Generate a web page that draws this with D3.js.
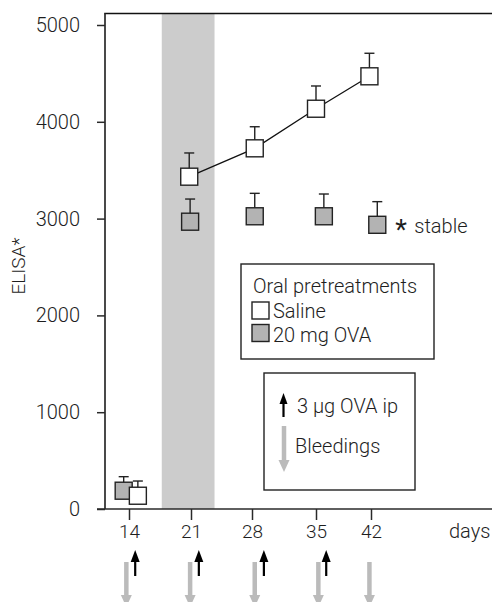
<!DOCTYPE html>
<html>
<head>
<meta charset="utf-8">
<script src="https://cdn.jsdelivr.net/npm/d3@7"></script>
<style>
  body { margin: 0; background: #fff; }
  svg text { font-family: Roboto, "Liberation Sans", sans-serif; font-weight: 300; fill: #1e1e1e; }
</style>
</head>
<body>
<svg id="chart" width="492" height="602"></svg>
<script>
// tick labels
const dayTicks = [14, 21, 28, 35, 42]
const elisaTicks = [0, 1000, 2000, 3000, 4000, 5000]

// series (days slightly dodged as drawn)
const salineDays = [15, 20.8, 28.3, 35, 41.8]
const salineMean = [137, 3433, 3726, 4135, 4470]
const salineSem = [152, 245, 223, 235, 238]

const ovaDays = [13.4, 20.9, 28.3, 36, 42.8]
const ovaMean = [189, 2968, 3024, 3024, 2936]
const ovaSem = [145, 234, 237, 230, 239]

// oral pretreatment window, immunizations and bleedings
const pretreatWindow = [17.7, 23.7]
const immunizationDays = [14.7, 21.9, 29.3, 36.3]
const bleedingDays = [13.7, 20.9, 28.3, 35.3, 41.8]

const fontSize = 20

const svg = d3.select('#chart')

// x scale follows the hand-drawn tick spacing
const x = d3.scaleLinear()
  .domain(dayTicks)
  .range([129, 191, 252, 316, 371])

const y = d3.scaleLinear()
  .domain([0, 5000])
  .range([509, 25])

const axisColor = '#2a2a2a'
const frameTop = 13.5

// shaded pretreatment band
svg.append('rect')
  .attr('x', x(pretreatWindow[0]))
  .attr('y', frameTop)
  .attr('width', x(pretreatWindow[1]) - x(pretreatWindow[0]))
  .attr('height', y(0) - frameTop)
  .attr('fill', '#cccccc')

// frame line on top
svg.append('line')
  .attr('x1', 104.2).attr('x2', 492)
  .attr('y1', frameTop).attr('y2', frameTop)
  .attr('stroke', '#111').attr('stroke-width', 1.7)

// y axis
const gy = svg.append('g')
  .attr('transform', 'translate(105,0)')
  .call(d3.axisLeft(y).tickValues(elisaTicks).tickFormat(d3.format('d')).tickSize(8).tickPadding(17))
gy.select('.domain').remove()
gy.selectAll('.tick line').attr('stroke', axisColor).attr('stroke-width', 1.5)
gy.selectAll('.tick text').attr('font-size', fontSize).attr('fill', '#1e1e1e')
  .style('font-family', 'Roboto, sans-serif').style('font-weight', 300)
svg.append('line')
  .attr('x1', 105).attr('x2', 105)
  .attr('y1', frameTop).attr('y2', y(0))
  .attr('stroke', axisColor).attr('stroke-width', 1.7)

// x axis
const gx = svg.append('g')
  .attr('transform', 'translate(0,' + y(0) + ')')
  .call(d3.axisBottom(x).tickValues(dayTicks).tickSize(11).tickPadding(5))
gx.select('.domain').remove()
gx.selectAll('.tick line').attr('stroke', axisColor).attr('stroke-width', 1.5)
gx.selectAll('.tick text').attr('font-size', fontSize - 1).attr('fill', '#1e1e1e')
  .style('font-family', 'Roboto, sans-serif').style('font-weight', 300)
svg.append('line')
  .attr('x1', 97).attr('x2', 492)
  .attr('y1', y(0)).attr('y2', y(0))
  .attr('stroke', axisColor).attr('stroke-width', 1.7)

svg.append('text')
  .attr('x', 449).attr('y', 538)
  .attr('font-size', fontSize)
  .text('days')

// y label
svg.append('text')
  .attr('transform', 'translate(25,266) rotate(-90)')
  .attr('text-anchor', 'middle')
  .attr('font-size', 19)
  .text('ELISA*')

// series
const saline = salineDays.map((d, i) => ({day: d, mean: salineMean[i], sem: salineSem[i]}))
const ova = ovaDays.map((d, i) => ({day: d, mean: ovaMean[i], sem: ovaSem[i]}))

// saline line from day 21 on
svg.append('path')
  .datum(saline.slice(1))
  .attr('fill', 'none')
  .attr('stroke', '#111')
  .attr('stroke-width', 1.3)
  .attr('d', d3.line().x(d => x(d.day)).y(d => y(d.mean)))

const sq = 17
const cap = 10

function drawSeries(data, fill){
  const g = svg.append('g')
  // error bars
  g.selectAll('line.err')
    .data(data)
    .join('line')
      .attr('class', 'err')
      .attr('x1', d => x(d.day)).attr('x2', d => x(d.day))
      .attr('y1', d => y(d.mean)).attr('y2', d => y(d.mean + d.sem))
      .attr('stroke', '#222').attr('stroke-width', 1.4)
  g.selectAll('line.cap')
    .data(data)
    .join('line')
      .attr('class', 'cap')
      .attr('x1', d => x(d.day) - cap / 2).attr('x2', d => x(d.day) + cap / 2)
      .attr('y1', d => y(d.mean + d.sem)).attr('y2', d => y(d.mean + d.sem))
      .attr('stroke', '#222').attr('stroke-width', 1.4)
  g.selectAll('rect')
    .data(data)
    .join('rect')
      .attr('x', d => x(d.day) - sq / 2)
      .attr('y', d => y(d.mean) - sq / 2)
      .attr('width', sq).attr('height', sq)
      .attr('fill', fill)
      .attr('stroke', '#222').attr('stroke-width', 1.4)
}

drawSeries(ova, '#b3b3b3')
drawSeries(saline, '#fff')

// "* stable" note beside the last OVA point
const lastOva = ova[ova.length - 1]
svg.append('text')
  .attr('x', x(lastOva.day) + 18).attr('y', y(lastOva.mean) + 14)
  .attr('font-size', 27)
  .style('font-weight', 400)
  .text('*')
svg.append('text')
  .attr('x', x(lastOva.day) + 37).attr('y', y(lastOva.mean) + 8)
  .attr('font-size', fontSize)
  .text('stable')

// legend: oral pretreatments
const leg = svg.append('g').attr('transform', 'translate(241,264)')
leg.append('rect')
  .attr('width', 193).attr('height', 95)
  .attr('fill', '#fff').attr('stroke', '#222').attr('stroke-width', 1.4)
leg.append('text').attr('x', 12).attr('y', 29).attr('font-size', fontSize).text('Oral pretreatments')
const legItems = [{label: 'Saline', fill: '#fff'}, {label: '20 mg OVA', fill: '#b3b3b3'}]
legItems.forEach((it, i) => {
  leg.append('rect')
    .attr('x', 11).attr('y', 38 + i * 22.5)
    .attr('width', 17).attr('height', 17)
    .attr('fill', it.fill).attr('stroke', '#222').attr('stroke-width', 1.4)
  leg.append('text').attr('x', 32).attr('y', 54 + i * 24).attr('font-size', fontSize).text(it.label)
})

// arrows
function upArrow(g, cx, tip, bottom, w, color, shaft, head){
  g.append('line')
    .attr('x1', cx).attr('x2', cx).attr('y1', bottom).attr('y2', tip + head - 1)
    .attr('stroke', color).attr('stroke-width', shaft)
  g.append('path')
    .attr('d', `M${cx},${tip} L${cx - w / 2},${tip + head} L${cx + w / 2},${tip + head} Z`)
    .attr('fill', color)
}
function downArrow(g, cx, start, tip, w, color, shaft, head){
  g.append('line')
    .attr('x1', cx).attr('x2', cx).attr('y1', start).attr('y2', tip - head + 1)
    .attr('stroke', color).attr('stroke-width', shaft)
  g.append('path')
    .attr('d', `M${cx},${tip} L${cx - w / 2},${tip - head} L${cx + w / 2},${tip - head} Z`)
    .attr('fill', color)
}

const arrows = svg.append('g')
immunizationDays.forEach(d => upArrow(arrows, x(d), 550, 576, 9, '#000', 2.2, 12))
bleedingDays.forEach(d => downArrow(arrows, x(d), 562, 607, 11, '#bbbbbb', 4.5, 12))

// legend: arrows
const leg2 = svg.append('g').attr('transform', 'translate(264,373)')
leg2.append('rect')
  .attr('width', 151).attr('height', 117)
  .attr('fill', '#fff').attr('stroke', '#222').attr('stroke-width', 1.4)
upArrow(leg2, 19.5, 20, 44, 8, '#000', 2.2, 11)
downArrow(leg2, 20, 53, 99, 11, '#bbbbbb', 4.5, 12)
leg2.append('text').attr('x', 33).attr('y', 40).attr('font-size', fontSize).text('3 µg OVA ip')
leg2.append('text').attr('x', 31).attr('y', 80).attr('font-size', fontSize).text('Bleedings')
</script>
</body>
</html>
